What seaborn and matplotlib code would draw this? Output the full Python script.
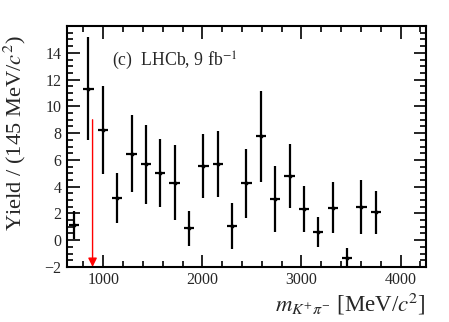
import numpy as np
import pandas as pd
import matplotlib
matplotlib.use("Agg")
import matplotlib.pyplot as plt
import seaborn as sns
from matplotlib.ticker import MultipleLocator

# ---- data ----
mass = [705, 850, 995, 1140, 1285, 1430, 1575, 1720, 1865, 2010, 2155,
        2300, 2445, 2590, 2735, 2880, 3025, 3170, 3315, 3460, 3605, 3750]
yield_ = [1.15, 11.3, 8.25, 3.15, 6.45, 5.67, 5.02, 4.3, 0.9, 5.54, 5.69,
          1.04, 4.25, 7.77, 3.06, 4.82, 2.34, 0.6, 2.44, -1.34, 2.46, 2.07]
err = [1.05, 3.85, 3.28, 1.84, 2.87, 2.97, 2.52, 2.8, 1.3, 2.4, 2.5,
       1.73, 2.6, 3.4, 2.46, 2.4, 1.74, 1.13, 1.89, 0.72, 2.0, 1.6]
half_width = 52
arrow_x = 892
arrow_top = 9.0

df = pd.DataFrame({"mass": mass, "yield": yield_, "err": err})

sns.set_style("ticks")
plt.rcParams["font.family"] = ["Liberation Serif", "DejaVu Serif"]
plt.rcParams["mathtext.fontset"] = "stix"

fig = plt.figure(figsize=(4.49, 3.22), dpi=100)
ax = fig.add_axes([0.149, 0.171, 0.8, 0.748])

ax.errorbar(df["mass"], df["yield"], yerr=df["err"], xerr=half_width,
            fmt="none", ecolor="black", elinewidth=1.6, capsize=0, zorder=3)
sns.scatterplot(data=df, x="mass", y="yield", ax=ax, color="black",
                s=8, marker="o", edgecolor="black", linewidth=0, zorder=4)

ax.annotate("", xy=(arrow_x, -2.0), xytext=(arrow_x, arrow_top),
            arrowprops=dict(arrowstyle="-|>", color="red", lw=1.0,
                            mutation_scale=13, shrinkA=0, shrinkB=0),
            zorder=2)

ax.set_xlim(633, 4258)
ax.set_ylim(-2, 16)
ax.xaxis.set_major_locator(MultipleLocator(1000))
ax.xaxis.set_minor_locator(MultipleLocator(200))
ax.yaxis.set_major_locator(MultipleLocator(2))
ax.yaxis.set_minor_locator(MultipleLocator(0.5))
ax.set_yticks(np.arange(-2, 15, 2))
ax.set_yticklabels(["\u22122"] + [str(v) for v in range(0, 15, 2)])

ax.tick_params(which="both", direction="in", top=True, right=True,
               labelsize=11.5, width=1.2, color="black", pad=4)
ax.tick_params(which="major", length=9)
ax.tick_params(axis="x", which="minor", length=4.5)
ax.tick_params(axis="y", which="minor", length=4.5)
for s in ax.spines.values():
    s.set_linewidth(1.5)
    s.set_color("black")

ax.set_xlabel(r"$m_{K^{+}\pi^{-}}$ [MeV/$c^{2}$]", fontsize=16.5, loc="right",
              labelpad=2)
ax.set_ylabel(r"Yield / (145 MeV/$c^{2}$)", fontsize=16.2)
ylab = ax.yaxis.label
ylab.set_rotation_mode("default")
ylab.set_ha("center")
ylab.set_va("center")
ax.yaxis.set_label_coords(-0.145, 0.555)

ax.text(0.125, 0.855, r"(c)  LHCb, 9 fb$^{-1}$", transform=ax.transAxes,
        fontsize=12.8, ha="left", va="center")

fig.savefig("out.png", dpi=100)
